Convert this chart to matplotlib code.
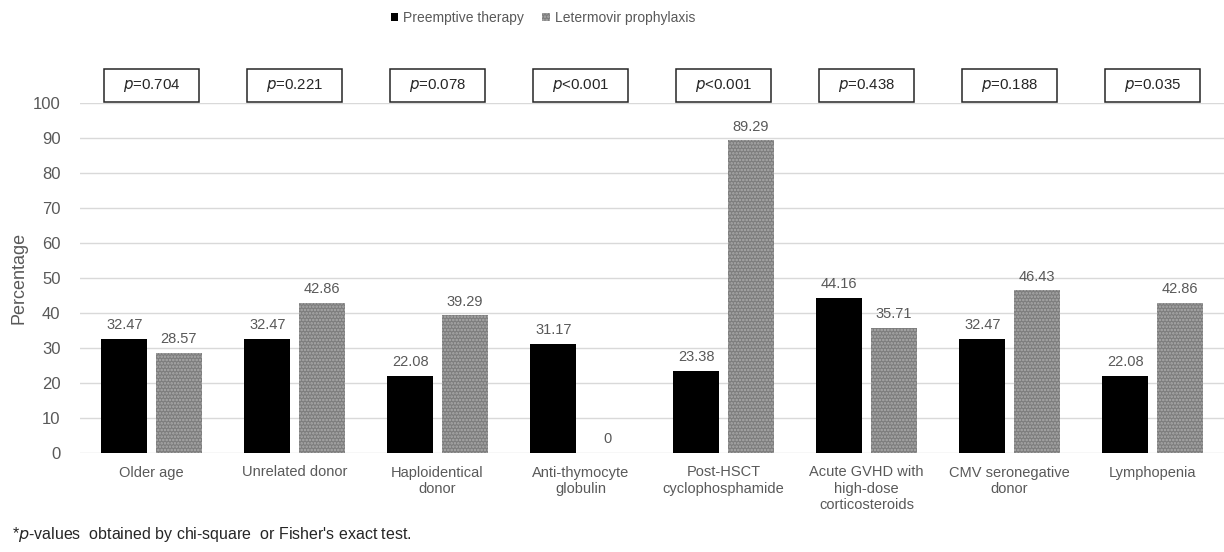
import matplotlib
matplotlib.use("Agg")
import matplotlib.pyplot as plt
from matplotlib.patches import Rectangle
import numpy as np

plt.rcParams['font.family'] = ['Liberation Sans', 'DejaVu Sans']
plt.rcParams['hatch.linewidth'] = 1.2

categories = [
    "Older age",
    "Unrelated donor",
    "Haploidentical\ndonor",
    "Anti-thymocyte\nglobulin",
    "Post-HSCT\ncyclophosphamide",
    "Acute GVHD with\nhigh-dose\ncorticosteroids",
    "CMV seronegative\ndonor",
    "Lymphopenia",
]
preemptive = [32.47, 32.47, 22.08, 31.17, 23.38, 44.16, 32.47, 22.08]
letermovir = [28.57, 42.86, 39.29, 0, 89.29, 35.71, 46.43, 42.86]
p_values = ["=0.704", "=0.221", "=0.078", "<0.001", "<0.001", "=0.438", "=0.188", "=0.035"]
series_names = ["Preemptive therapy", "Letermovir prophylaxis"]
yticks = list(range(0, 101, 10))

txt = '#595959'
fig = plt.figure(figsize=(12.24, 5.52), dpi=100)
ax = fig.add_axes([80 / 1224, 1 - 453 / 552, 1144 / 1224, 350 / 552])

x = np.arange(len(categories))
w = 0.32
off = 0.19
b1 = ax.bar(x - off, preemptive, w, color='black', label=series_names[0], zorder=3)
b2 = ax.bar(x + off, letermovir, w, color='#7d7d7d', edgecolor='#acacac',
            hatch='.....', linewidth=0, label=series_names[1], zorder=3)

for bars, vals in ((b1, preemptive), (b2, letermovir)):
    for rect, v in zip(bars, vals):
        ax.annotate(f"{v:g}" if v == 0 else f"{v:.2f}",
                    (rect.get_x() + rect.get_width() / 2, v),
                    xytext=(0, 5), textcoords='offset points',
                    ha='center', va='bottom', fontsize=10.5, color=txt)

ax.set_xlim(-0.5, len(categories) - 0.5)
ax.set_ylim(0, 100)
ax.set_yticks(yticks)
ax.set_xticks(x)
ax.set_xticklabels(categories, fontsize=10.5, color=txt, linespacing=1.2)
ax.tick_params(axis='y', length=0, pad=14, labelsize=12, labelcolor=txt)
ax.tick_params(axis='x', length=0, pad=9)
ax.grid(axis='y', color='#d9d9d9', linewidth=1, zorder=0)
for s in ax.spines.values():
    s.set_visible(False)
ax.set_ylabel("Percentage", fontsize=13, color=txt, labelpad=4)

# p-value boxes above each category
bw = 0.66
for xi, pv in zip(x, p_values):
    ax.add_patch(Rectangle((xi - bw / 2, 100.4), bw, 9.3, transform=ax.transData,
                           facecolor='white', edgecolor='#262626', linewidth=1.1,
                           clip_on=False, zorder=4))
    ax.text(xi, 105.05, r"$\mathit{p}$" + pv, ha='center', va='center',
            fontsize=10.8, color='#262626', clip_on=False, zorder=5)

fig.legend(handles=[b1, b2], labels=series_names, loc='center', ncol=2,
           bbox_to_anchor=(543 / 1224, 1 - 18 / 552), frameon=False,
           fontsize=10, handlelength=0.55, handleheight=0.55, handletextpad=0.35,
           columnspacing=1.3, labelcolor=txt)

fig.text(12 / 1224, 1 - 535 / 552,
         r"*$\mathit{p}$-values  obtained by chi-square  or Fisher's exact test.",
         fontsize=11.5, color='#262626', ha='left', va='center')

fig.savefig("out.png", dpi=100)
